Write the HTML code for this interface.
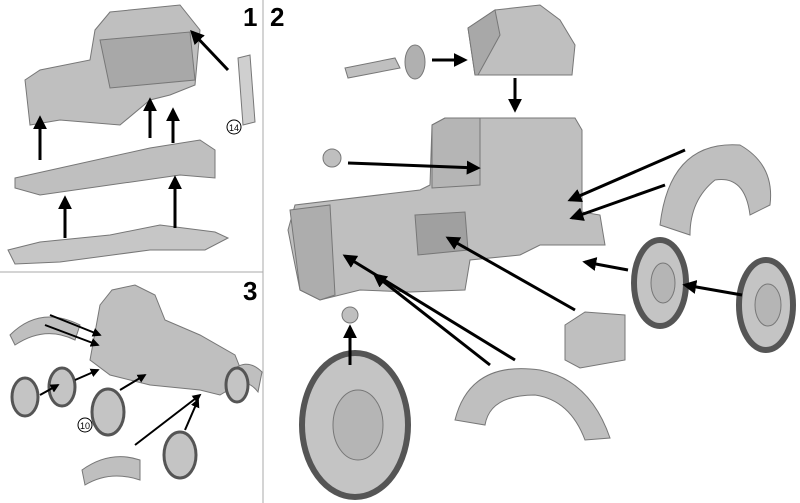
<!DOCTYPE html>
<html><head><meta charset="utf-8"><style>
html,body{margin:0;padding:0;background:#fff;}
svg{display:block;}
text{font-family:"Liberation Sans","DejaVu Sans",sans-serif;}
</style></head><body>
<svg width="800" height="503" viewBox="0 0 800 503" xmlns="http://www.w3.org/2000/svg">
<defs>
<marker id="a" viewBox="0 0 10 10" markerWidth="9" markerHeight="9" refX="8" refY="5" orient="auto" markerUnits="userSpaceOnUse"><path d="M0,0 L10,5 L0,10 Z" fill="#000"/></marker>
<marker id="b" viewBox="0 0 10 10" markerWidth="14" markerHeight="14" refX="8" refY="5" orient="auto" markerUnits="userSpaceOnUse"><path d="M0,0 L10,5 L0,10 Z" fill="#000"/></marker>
</defs>
<rect width="800" height="503" fill="#fff"/>
<line x1="263" y1="0" x2="263" y2="503" stroke="#aaa" stroke-width="1"/>
<line x1="0" y1="272" x2="263" y2="272" stroke="#aaa" stroke-width="1"/>
<text x="243" y="26" font-size="26" font-weight="bold">1</text>
<text x="270" y="26" font-size="26" font-weight="bold">2</text>
<text x="243" y="300" font-size="26" font-weight="bold">3</text>

<!-- PANEL 1 -->
<g fill="#bfbfbf" stroke="#777" stroke-width="1">
<polygon points="95,30 110,12 180,5 200,30 195,85 170,95 150,100 120,125 60,120 30,125 25,80 40,70 90,60"/>
<polygon points="100,40 190,32 195,80 110,88" fill="#a8a8a8"/>
<polygon points="238,58 250,55 255,122 243,125" fill="#cfcfcf"/>
<polygon points="15,178 150,148 200,140 215,150 215,178 180,175 40,195 15,188"/>
<polygon points="8,250 40,242 110,235 160,225 215,232 228,238 205,250 150,250 60,262 15,264" fill="#c6c6c6"/>
</g>
<circle cx="234" cy="127" r="7" fill="none" stroke="#000" stroke-width="1"/>
<text x="234" y="131" font-size="9" text-anchor="middle">14</text>
<g stroke="#000" stroke-width="3" fill="none">
<line x1="228" y1="70" x2="192" y2="32" marker-end="url(#b)"/>
<line x1="40" y1="160" x2="40" y2="118" marker-end="url(#b)"/>
<line x1="150" y1="138" x2="150" y2="100" marker-end="url(#b)"/>
<line x1="173" y1="143" x2="173" y2="110" marker-end="url(#b)"/>
<line x1="65" y1="238" x2="65" y2="198" marker-end="url(#b)"/>
<line x1="175" y1="228" x2="175" y2="178" marker-end="url(#b)"/>
</g>

<!-- PANEL 3 -->
<g fill="#bfbfbf" stroke="#777" stroke-width="1">
<path d="M10,335 Q40,305 80,325 L75,340 Q45,325 15,345 Z"/>
<polygon points="100,305 112,290 135,285 155,295 165,320 200,335 235,355 245,380 220,395 200,390 150,385 110,375 90,360"/>
<path d="M228,375 Q245,355 262,372 L258,392 Q245,375 232,392 Z"/>
<path d="M82,470 Q110,450 140,460 L140,480 Q110,470 85,485 Z"/>
</g>
<g fill="#c4c4c4" stroke="#555" stroke-width="3">
<ellipse cx="25" cy="397" rx="13" ry="19"/>
<ellipse cx="62" cy="387" rx="13" ry="19"/>
<ellipse cx="108" cy="412" rx="16" ry="23"/>
<ellipse cx="180" cy="455" rx="16" ry="23"/>
<ellipse cx="237" cy="385" rx="11" ry="17"/>
</g>
<circle cx="85" cy="425" r="7" fill="#fff" stroke="#000" stroke-width="1"/>
<text x="85" y="429" font-size="9" text-anchor="middle">10</text>
<g stroke="#000" stroke-width="2" fill="none">
<line x1="50" y1="315" x2="100" y2="335" marker-end="url(#a)"/>
<line x1="45" y1="325" x2="98" y2="345" marker-end="url(#a)"/>
<line x1="40" y1="395" x2="58" y2="385" marker-end="url(#a)"/>
<line x1="75" y1="380" x2="98" y2="370" marker-end="url(#a)"/>
<line x1="120" y1="390" x2="145" y2="375" marker-end="url(#a)"/>
<line x1="135" y1="445" x2="200" y2="395" marker-end="url(#a)"/>
<line x1="185" y1="430" x2="198" y2="400" marker-end="url(#a)"/>
</g>

<!-- PANEL 2 -->
<g fill="#bfbfbf" stroke="#777" stroke-width="1">
<polygon points="495,10 540,5 560,20 575,45 572,75 475,75 468,28"/>
<polygon points="468,28 495,10 500,35 478,75 475,75" fill="#a8a8a8"/>
<polygon points="345,68 395,58 400,68 348,78"/>
<ellipse cx="415" cy="62" rx="10" ry="17" fill="#b0b0b0"/>
<ellipse cx="332" cy="158" rx="9" ry="9"/>
<polygon points="432,125 445,118 575,118 582,130 582,212 600,215 605,245 540,245 520,255 470,260 465,290 410,292 360,290 320,300 300,290 288,230 295,205 420,190 430,185"/>
<polygon points="290,210 330,205 335,295 320,300 300,290" fill="#adadad"/>
<polygon points="432,125 445,118 480,118 480,185 432,188" fill="#b5b5b5"/>
<polygon points="415,215 465,212 468,250 418,255" fill="#a0a0a0"/>
<polygon points="565,325 585,312 625,315 625,360 580,368 565,360"/>
<path d="M660,225 Q670,140 740,145 Q775,165 770,205 L750,215 Q745,175 715,180 Q690,200 690,235 Z"/>
<path d="M455,420 Q470,360 540,370 Q590,380 610,438 L585,440 Q570,400 535,395 Q490,395 485,425 Z"/>
<circle cx="350" cy="315" r="8"/>
</g>
<g fill="#c4c4c4" stroke="#555" stroke-width="6">
<ellipse cx="660" cy="283" rx="26" ry="43"/>
<ellipse cx="766" cy="305" rx="27" ry="45"/>
<ellipse cx="355" cy="425" rx="53" ry="72"/>
</g>
<g fill="#b5b5b5" stroke="#777" stroke-width="1">
<ellipse cx="663" cy="283" rx="12" ry="20"/>
<ellipse cx="768" cy="305" rx="13" ry="21"/>
<ellipse cx="358" cy="425" rx="25" ry="35"/>
</g>
<g stroke="#000" stroke-width="3" fill="none">
<line x1="432" y1="60" x2="465" y2="60" marker-end="url(#b)"/>
<line x1="515" y1="78" x2="515" y2="110" marker-end="url(#b)"/>
<line x1="348" y1="163" x2="478" y2="168" marker-end="url(#b)"/>
<line x1="685" y1="150" x2="570" y2="200" marker-end="url(#b)"/>
<line x1="665" y1="185" x2="572" y2="218" marker-end="url(#b)"/>
<line x1="628" y1="270" x2="585" y2="262" marker-end="url(#b)"/>
<line x1="742" y1="295" x2="685" y2="285" marker-end="url(#b)"/>
<line x1="575" y1="310" x2="448" y2="238" marker-end="url(#b)"/>
<line x1="515" y1="360" x2="345" y2="256" marker-end="url(#b)"/>
<line x1="490" y1="365" x2="375" y2="275" marker-end="url(#b)"/>
<line x1="350" y1="365" x2="350" y2="327" marker-end="url(#b)"/>
</g>
</svg>
</body></html>
